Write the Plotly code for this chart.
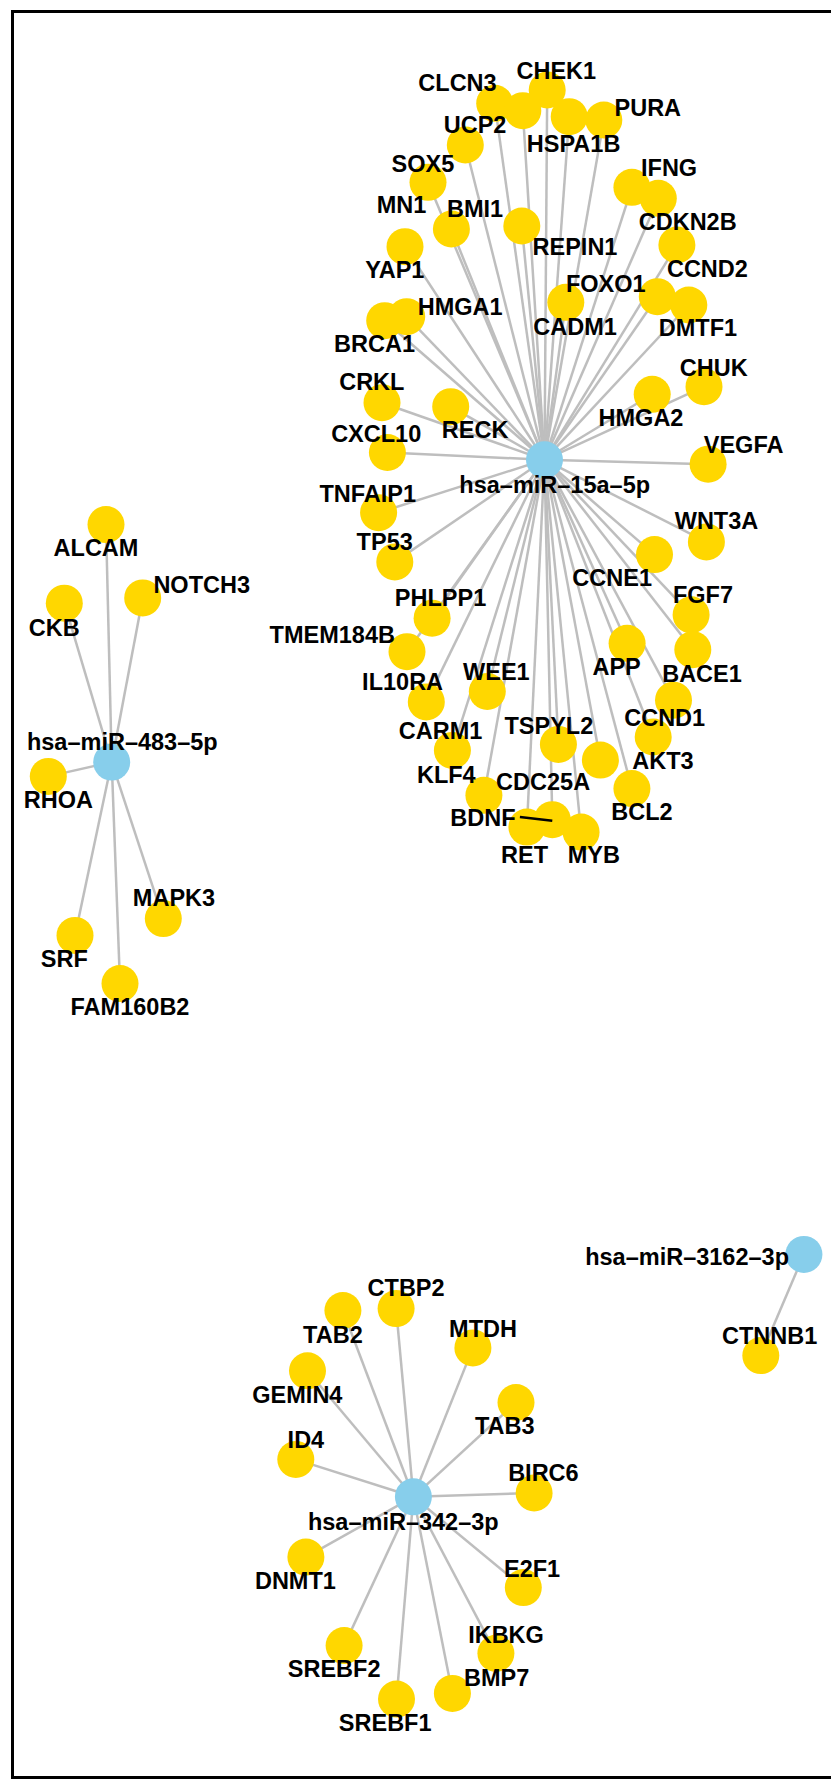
import plotly.graph_objects as go

# ---- hubs (miRNAs) ----
hub_names = ["hsa–miR–15a–5p", "hsa–miR–483–5p", "hsa–miR–342–3p", "hsa–miR–3162–3p"]
hub_x = [544.5, 111.7, 413.4, 803.9]
hub_y = [459.8, 762.1, 1496.8, 1254.4]
hub_label_x = [554.7, 122.3, 403.3, 687.1]
hub_label_y = [483.6, 740.7, 1520.8, 1255.6]

# ---- targets of hsa-miR-15a-5p ----
t15_names = ["CLCN3", "UCP2", "CHEK1", "HSPA1B", "PURA", "SOX5", "MN1", "BMI1", "REPIN1", "YAP1",
             "IFNG", "CDKN2B", "CCND2", "CADM1", "FOXO1", "DMTF1", "BRCA1", "HMGA1", "CRKL", "RECK",
             "HMGA2", "CHUK", "CXCL10", "VEGFA", "TNFAIP1", "TP53", "WNT3A", "CCNE1", "FGF7", "PHLPP1",
             "TMEM184B", "APP", "BACE1", "WEE1", "IL10RA", "CCND1", "TSPYL2", "AKT3", "CARM1", "CDC25A",
             "BCL2", "KLF4", "RET", "BDNF", "MYB"]
t15_x = [494.7, 522.8, 547.2, 569.2, 603.8, 465.3, 428.0, 451.4, 521.8, 405.0,
         631.9, 658.3, 676.9, 565.8, 657.3, 688.8, 384.7, 406.7, 382.0, 450.7,
         652.2, 704.0, 387.4, 708.1, 378.6, 394.8, 706.4, 654.5, 691.1, 432.1,
         407.0, 627.1, 692.8, 487.3, 426.3, 673.5, 558.4, 653.2, 452.4, 600.4,
         631.9, 483.9, 526.9, 552.3, 581.1]
t15_y = [103.3, 110.7, 90.0, 116.7, 120.0, 145.0, 182.3, 229.0, 226.0, 246.7,
         187.3, 198.3, 245.0, 302.3, 296.7, 305.0, 320.7, 316.7, 402.7, 406.7,
         394.3, 386.7, 452.5, 464.2, 512.7, 561.9, 541.9, 554.6, 614.8, 618.2,
         651.7, 643.3, 649.7, 691.5, 701.9, 700.2, 744.4, 737.0, 750.4, 760.1,
         788.6, 795.3, 827.1, 819.7, 832.1]
t15_lx = [457.5, 475.1, 556.3, 573.6, 647.8, 422.9, 401.6, 475.1, 575.0, 394.8,
          669.1, 687.7, 707.4, 575.0, 605.8, 697.9, 374.5, 460.2, 371.8, 475.1,
          641.0, 713.8, 376.2, 743.6, 367.7, 384.7, 716.5, 612.2, 703.0, 440.5,
          332.3, 616.6, 702.0, 496.4, 402.6, 664.7, 548.9, 663.0, 440.5, 543.1,
          642.0, 446.3, 524.5, 482.9, 593.9]
t15_ly = [81.7, 123.3, 70.0, 142.7, 106.7, 162.3, 203.3, 207.7, 246.0, 268.3,
          166.7, 220.7, 267.7, 325.7, 282.3, 326.7, 342.7, 306.0, 381.0, 428.3,
          416.7, 366.7, 432.3, 443.8, 492.6, 540.2, 520.1, 576.3, 593.7, 596.4,
          633.3, 665.7, 673.1, 670.7, 680.8, 717.0, 724.3, 760.1, 729.3, 780.2,
          810.4, 773.5, 853.9, 817.1, 853.9]

# ---- targets of hsa-miR-483-5p ----
t483_names = ["ALCAM", "NOTCH3", "CKB", "RHOA", "MAPK3", "SRF", "FAM160B2"]
t483_x = [106.0, 142.7, 64.3, 48.3, 163.3, 75.0, 120.0]
t483_y = [524.6, 597.9, 603.2, 776.4, 918.6, 935.4, 983.6]
t483_lx = [96.0, 201.7, 54.3, 58.3, 174.0, 64.3, 130.0]
t483_ly = [546.8, 583.6, 626.4, 798.9, 897.1, 957.9, 1006.1]

# ---- targets of hsa-miR-342-3p ----
t342_names = ["CTBP2", "TAB2", "MTDH", "GEMIN4", "TAB3", "ID4", "BIRC6", "DNMT1", "E2F1",
              "SREBF2", "IKBKG", "BMP7", "SREBF1"]
t342_x = [396.1, 342.9, 472.9, 307.5, 516.0, 295.8, 534.1, 305.9, 523.3, 344.1, 495.9, 452.4, 396.5]
t342_y = [1308.6, 1310.5, 1347.9, 1370.8, 1402.5, 1459.4, 1493.0, 1557.1, 1587.6,
          1645.6, 1653.3, 1693.4, 1699.1]
t342_lx = [406.1, 332.9, 483.0, 297.4, 504.8, 305.9, 543.4, 295.4, 532.1, 334.1, 506.0, 496.7, 385.2]
t342_ly = [1286.9, 1333.4, 1327.7, 1393.7, 1425.0, 1438.4, 1472.0, 1579.6, 1567.4,
           1667.4, 1633.4, 1676.2, 1721.2]

# ---- targets of hsa-miR-3162-3p ----
t3162_names = ["CTNNB1"]
t3162_x = [760.8]
t3162_y = [1355.6]
t3162_lx = [769.6]
t3162_ly = [1334.6]

groups = [
    (t15_names, t15_x, t15_y, t15_lx, t15_ly),
    (t483_names, t483_x, t483_y, t483_lx, t483_ly),
    (t342_names, t342_x, t342_y, t342_lx, t342_ly),
    (t3162_names, t3162_x, t3162_y, t3162_lx, t3162_ly),
]

GOLD = "#FFD700"
SKY = "#87CEEB"
EDGE = "#BEBEBE"
FONT = dict(family="Liberation Sans, Arial, sans-serif", size=23.5, color="black", weight="bold")
NODE_SIZE = 37
TEXT_DY = 3.5  # compensates plotly's vertical text anchoring

ex, ey = [], []
gx, gy, gn = [], [], []
lx, ly, ln = [], [], []
for h, (names, xs, ys, lxs, lys) in enumerate(groups):
    for n, x, y, a, b in zip(names, xs, ys, lxs, lys):
        ex += [hub_x[h], x, None]
        ey += [hub_y[h], y, None]
        gx.append(x); gy.append(y); gn.append(n)
        lx.append(a); ly.append(b + TEXT_DY); ln.append(n)

fig = go.Figure()
fig.add_trace(go.Scatter(x=ex, y=ey, mode="lines", line=dict(color=EDGE, width=2.5),
                         hoverinfo="skip", showlegend=False))
fig.add_trace(go.Scatter(x=gx, y=gy, mode="markers", text=gn, hoverinfo="text",
                         marker=dict(size=NODE_SIZE, color=GOLD, line=dict(width=0)),
                         showlegend=False))
fig.add_trace(go.Scatter(x=hub_x, y=hub_y, mode="markers", text=hub_names, hoverinfo="text",
                         marker=dict(size=NODE_SIZE, color=SKY, line=dict(width=0)),
                         showlegend=False))

# repel connector for the BDNF label (label -> its node)
i = t15_names.index("BDNF")
fig.add_trace(go.Scatter(x=[t15_lx[i] + 37, t15_x[i]], y=[t15_ly[i], t15_y[i] + 1],
                         mode="lines", line=dict(color="black", width=2.5),
                         hoverinfo="skip", showlegend=False))

fig.add_trace(go.Scatter(x=lx + hub_label_x, y=ly + [v + TEXT_DY for v in hub_label_y],
                         mode="text", text=ln + hub_names, textposition="middle center",
                         textfont=FONT, hoverinfo="skip", showlegend=False))

W, H = 831, 1779
fig.update_layout(
    width=W, height=H,
    margin=dict(l=0, r=0, t=0, b=0),
    paper_bgcolor="white", plot_bgcolor="white",
    xaxis=dict(range=[0, W], visible=False, fixedrange=True),
    yaxis=dict(range=[H, 0], visible=False, fixedrange=True),
    shapes=[dict(type="rect", xref="x", yref="y", x0=12.5, y0=11.5, x1=W + 20, y1=1777.5,
                 line=dict(color="black", width=3), fillcolor="rgba(0,0,0,0)", layer="below")],
)

fig.write_html("out.html", config={"displayModeBar": False},
               post_script="document.body.style.margin='0';document.body.style.overflow='hidden';")
